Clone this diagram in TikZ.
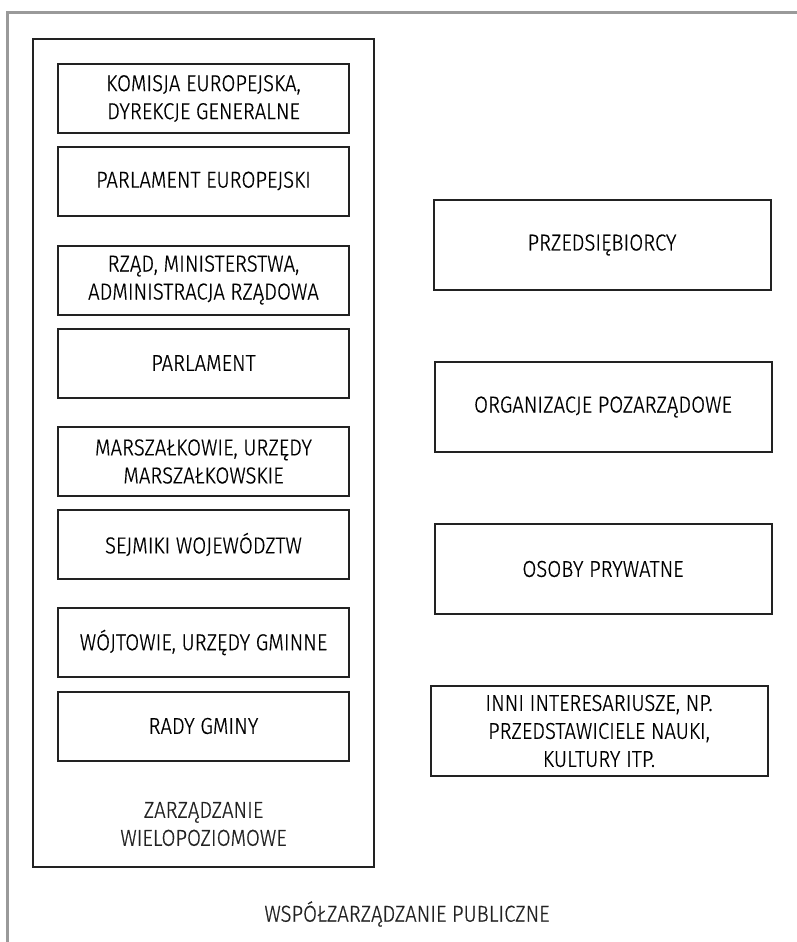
\documentclass[tikz,border=0pt]{standalone}
\usepackage{fontspec}
\setmainfont{Fira Sans}[UprightFont={* Light}, FakeStretch=0.88, FakeBold=0.6]
\usepackage{tikz}
\usetikzlibrary{positioning}
\definecolor{frameGray}{HTML}{9A9A9A}
\definecolor{inkDark}{HTML}{222222}
\tikzset{
  tier/.style={draw=inkDark, line width=2pt, inner sep=0pt, align=center,
               minimum width=291pt, minimum height=69pt, font=\fontsize{23}{28}\selectfont},
  actor/.style={draw=inkDark, line width=2pt, inner sep=0pt, align=center,
                minimum width=337pt, minimum height=90pt, font=\fontsize{23}{28}\selectfont},
  caption/.style={inner sep=0pt, align=center, text=inkDark, font=\fontsize{23}{28}\selectfont},
}
\begin{document}
\begin{tikzpicture}[x=1pt, y=-1pt]
\useasboundingbox (0,0) rectangle (797,942);
\draw[color=frameGray, line width=3.5pt] (7.5,942) -- (7.5,12.5) -- (797,12.5);
% multi-level governance group
\node[draw=inkDark, line width=2pt, minimum width=341pt, minimum height=828pt, inner sep=0pt] (wielo) at (203.5,453) {};
\node[tier] (komisja)   at (203.5,98.5)  {KOMISJA EUROPEJSKA,\\DYREKCJE GENERALNE};
\node[tier] (parlEu)    at (203.5,181)   {PARLAMENT EUROPEJSKI};
\node[tier] (rzad)      at (203.5,280)   {RZĄD, MINISTERSTWA,\\ADMINISTRACJA RZĄDOWA};
\node[tier] (parl)      at (203.5,363)   {PARLAMENT};
\node[tier] (marszalek) at (203.5,461.5) {MARSZAŁKOWIE, URZĘDY\\MARSZAŁKOWSKIE};
\node[tier] (sejmiki)   at (203.5,544.5) {SEJMIKI WOJEWÓDZTW};
\node[tier] (wojtowie)  at (203.5,642.5) {WÓJTOWIE, URZĘDY GMINNE};
\node[tier] (rady)      at (203.5,726)   {RADY GMINY};
\node[caption] (wieloLbl) at (203.5,824) {ZARZĄDZANIE\\WIELOPOZIOMOWE};
% other stakeholders
\node[actor] (przeds) at (602,245)   {PRZEDSIĘBIORCY};
\node[actor] (ngo)    at (603,407)   {ORGANIZACJE POZARZĄDOWE};
\node[actor] (osoby)  at (603,569)   {OSOBY PRYWATNE};
\node[actor] (inni)   at (599,731)   {INNI INTERESARIUSZE, NP.\\PRZEDSTAWICIELE NAUKI,\\KULTURY ITP.};
\node[caption] (wspolLbl) at (407,914) {WSPÓŁZARZĄDZANIE PUBLICZNE};
\end{tikzpicture}
\end{document}
